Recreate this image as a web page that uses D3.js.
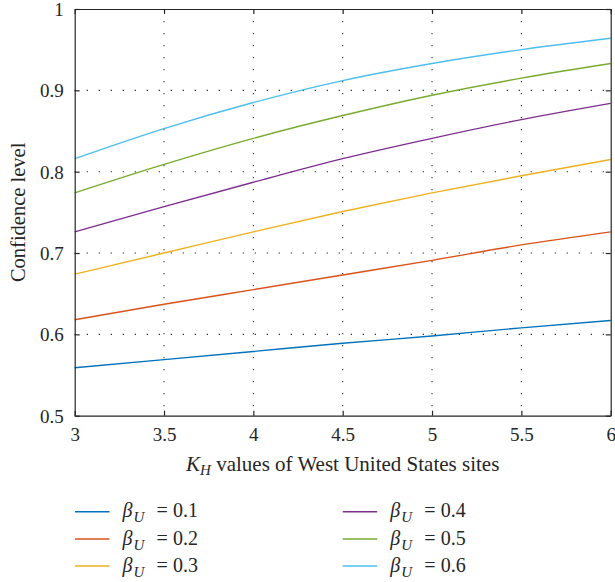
<!DOCTYPE html>
<html><head><meta charset="utf-8">
<script src="https://cdn.jsdelivr.net/npm/d3@7"></script>
<style>body{margin:0;background:#fff}svg{display:block}text{font-family:"Liberation Serif","DejaVu Serif",serif;fill:#262626}</style>
</head><body><svg id="c" width="615" height="582"></svg>
<script>
const kh = [3, 3.5, 4, 4.5, 5, 5.5, 6];
const beta01 = [0.559, 0.569, 0.579, 0.589, 0.598, 0.608, 0.617];
const beta02 = [0.618, 0.637, 0.655, 0.673, 0.691, 0.710, 0.726];
const beta03 = [0.674, 0.700, 0.726, 0.751, 0.774, 0.795, 0.815];
const beta04 = [0.726, 0.757, 0.787, 0.816, 0.841, 0.864, 0.884];
const beta05 = [0.774, 0.809, 0.841, 0.869, 0.894, 0.915, 0.933];
const beta06 = [0.816, 0.853, 0.885, 0.912, 0.933, 0.950, 0.964];
const seriesNames = ["0.1", "0.2", "0.3", "0.4", "0.5", "0.6"];
const colors = ["#0072BD", "#D95319", "#EDB120", "#7E2F8E", "#77AC30", "#4DBEEE"];
const xTicks = [3, 3.5, 4, 4.5, 5, 5.5, 6];
const yTicks = [0.5, 0.6, 0.7, 0.8, 0.9, 1];
const xTickLabels = ["3", "3.5", "4", "4.5", "5", "5.5", "6"];
const yTickLabels = ["0.5", "0.6", "0.7", "0.8", "0.9", "1"];
const allSeries = [beta01, beta02, beta03, beta04, beta05, beta06];

const svg = d3.select("#c");
const L = 74.7, R = 610.7, T = 9, B = 415.7;
const x = d3.scaleLinear().domain([3, 6]).range([L, R]);
const y = d3.scaleLinear().domain([0.5, 1]).range([B, T]);
const FONT = '"Liberation Serif","DejaVu Serif",serif';

// grid
const g = svg.append("g");
g.selectAll("line.vg").data(xTicks.filter(d => d > 3 && d < 6)).enter().append("line")
  .attr("x1", d => x(d)).attr("x2", d => x(d)).attr("y1", T).attr("y2", B)
  .attr("stroke", "#333").attr("stroke-width", 1.1).attr("stroke-dasharray", "1.3,10.7");
g.selectAll("line.hg").data(yTicks.filter(d => d > 0.5 && d < 1)).enter().append("line")
  .attr("y1", d => y(d)).attr("y2", d => y(d)).attr("x1", L).attr("x2", R)
  .attr("stroke", "#333").attr("stroke-width", 1.1).attr("stroke-dasharray", "1.3,10.7");

// lines
const line = d3.line().x((d, i) => x(kh[i])).y(d => y(d)).curve(d3.curveMonotoneX);
allSeries.forEach((s, i) => {
  svg.append("path").attr("d", line(s)).attr("fill", "none")
    .attr("stroke", colors[i]).attr("stroke-width", 1.4);
});

// axes
const xAxis = d3.axisBottom(x).tickValues(xTicks).tickFormat((d, i) => xTickLabels[i]).tickSizeInner(-5).tickSizeOuter(0).tickPadding(12);
const yAxis = d3.axisLeft(y).tickValues(yTicks).tickFormat((d, i) => yTickLabels[i]).tickSizeInner(-5).tickSizeOuter(0).tickPadding(11);
const xa = svg.append("g").attr("transform", `translate(0,${B})`).call(xAxis);
const ya = svg.append("g").attr("transform", `translate(${L},0)`).call(yAxis);
const xt = svg.append("g").attr("transform", `translate(0,${T})`).call(d3.axisTop(x).tickValues(xTicks).tickFormat("").tickSizeInner(-5).tickSizeOuter(0));
const yr = svg.append("g").attr("transform", `translate(${R},0)`).call(d3.axisRight(y).tickValues(yTicks).tickFormat("").tickSizeInner(-5).tickSizeOuter(0));
[xa, ya, xt, yr].forEach(a => {
  a.attr("font-family", FONT).attr("font-size", 19);
  a.selectAll("path.domain").attr("stroke", "#262626").attr("stroke-width", 1.2);
  a.selectAll(".tick line").attr("stroke", "#262626").attr("stroke-width", 1.2);
  a.selectAll("text").attr("fill", "#262626");
});
xa.selectAll("text").attr("dy", null).attr("y", 25);
ya.selectAll("text").attr("dy", "0.34em");

// axis labels
svg.append("text").attr("transform", `translate(25,${(T + B) / 2}) rotate(-90)`)
  .attr("text-anchor", "middle").style("font-size", "20.5px").text("Confidence level");
const xl = svg.append("text").attr("x", (L + R) / 2 + 0).attr("y", 471).attr("text-anchor", "middle").style("font-size", "21px");
xl.append("tspan").style("font-style", "italic").text("K");
xl.append("tspan").style("font-style", "italic").style("font-size", "15px").attr("dy", 4).text("H");
xl.append("tspan").attr("dy", -4).text(" values of West United States sites");

// legend
const legX = [75, 342.7], legY = [511.7, 539, 566];
seriesNames.forEach((n, i) => {
  const col = Math.floor(i / 3), row = i % 3;
  const lx = legX[col], ly = legY[row];
  svg.append("line").attr("x1", lx).attr("x2", lx + 34.5).attr("y1", ly).attr("y2", ly)
    .attr("stroke", colors[i]).attr("stroke-width", 1.6);
  const t = svg.append("text").attr("y", ly + 5.5).style("font-size", "20px");
  t.append("tspan").attr("x", lx + 47.5).style("font-style", "italic").text("β");
  t.append("tspan").attr("x", lx + 58.5).style("font-style", "italic").style("font-size", "15px").attr("dy", 5).text("U");
  t.append("tspan").attr("x", lx + 81.5).attr("dy", -5).text("=");
  t.append("tspan").attr("x", lx + 98).text(n);
});
</script></body></html>
